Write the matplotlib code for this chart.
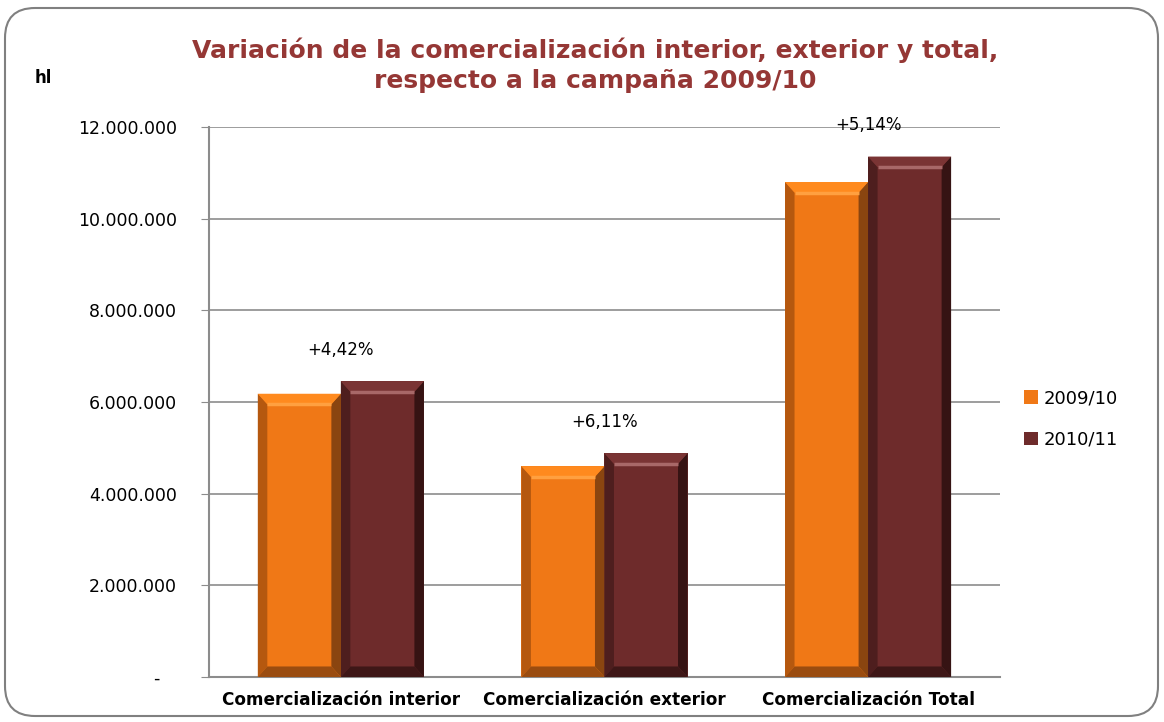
import matplotlib
matplotlib.use("Agg")
import matplotlib.pyplot as plt
from matplotlib.patches import FancyBboxPatch, Polygon
from matplotlib.ticker import FuncFormatter
import numpy as np

categories = ["Comercialización interior", "Comercialización exterior", "Comercialización Total"]
series_names = ["2009/10", "2010/11"]
values_2009 = [6180000, 4600000, 10800000]
values_2010 = [6453000, 4881000, 11355000]
variation_labels = ["+4,42%", "+6,11%", "+5,14%"]
yticks = [0, 2000000, 4000000, 6000000, 8000000, 10000000, 12000000]

title_color = "#953735"
main_colors = ["#F07816", "#6E2B2B"]
left_colors = ["#B5580F", "#4E1E1E"]
right_colors = ["#8A4510", "#361313"]
top_colors = ["#FF8A1E", "#7A3434"]
hi_colors = ["#FFA040", "#A86868"]
bottom_colors = ["#9A4C10", "#3E1717"]

fig = plt.figure(figsize=(11.64, 7.22), dpi=100)
fig.patch.set_facecolor("white")

# rounded frame
frame = FancyBboxPatch((0.05, 0.06), 11.53, 7.08,
                       boxstyle="round,pad=0,rounding_size=0.3",
                       transform=fig.dpi_scale_trans, facecolor="none",
                       edgecolor="#808080", linewidth=1.5)
fig.patches.append(frame)

ax = fig.add_axes([0.1796, 0.0623, 0.6794, 0.7618])
ax.set_xlim(-0.5, 2.5)
ax.set_ylim(0, 12000000)

x = np.arange(len(categories))
w = 0.315
series = [values_2009, values_2010]
bar_groups = []
for i, vals in enumerate(series):
    bars = ax.bar(x + (i - 0.5) * w, vals, width=w, color=main_colors[i],
                  edgecolor="none", zorder=3, label=series_names[i])
    bar_groups.append(bars)

# bevel decorations derived from bar geometry
bx = 0.036  # horizontal bevel in data units
by = 230000  # vertical bevel in data units
for i, bars in enumerate(bar_groups):
    for b in bars:
        x0 = b.get_x(); x1 = x0 + b.get_width(); h = b.get_height()
        ax.add_patch(Polygon([(x0, 0), (x0 + bx, by), (x0 + bx, h - by), (x0, h)],
                             closed=True, facecolor=left_colors[i], edgecolor="none", zorder=4))
        ax.add_patch(Polygon([(x1, 0), (x1 - bx, by), (x1 - bx, h - by), (x1, h)],
                             closed=True, facecolor=right_colors[i], edgecolor="none", zorder=4))
        ax.add_patch(Polygon([(x0, h), (x1, h), (x1 - bx, h - by), (x0 + bx, h - by)],
                             closed=True, facecolor=top_colors[i], edgecolor="none", zorder=4))
        ax.plot([x0 + bx, x1 - bx], [h - by, h - by], color=hi_colors[i], lw=2.5,
                zorder=5, solid_capstyle="butt")
        ax.add_patch(Polygon([(x0, 0), (x1, 0), (x1 - bx, by), (x0 + bx, by)],
                             closed=True, facecolor=bottom_colors[i], edgecolor="none", zorder=4))

# variation labels
for j in range(len(categories)):
    top = max(values_2009[j], values_2010[j])
    ax.annotate(variation_labels[j], xy=(x[j], top), xytext=(0, 16),
                textcoords="offset points", ha="center", va="bottom",
                fontsize=12, color="black")

ax.set_yticks(yticks)
ax.yaxis.set_major_formatter(FuncFormatter(
    lambda v, p: "-   " if v == 0 else f"{int(v):,}".replace(",", ".")))
ax.grid(axis="y", color="#8C8C8C", linewidth=1.2, zorder=0)
ax.set_axisbelow(True)
for s in ["top", "right"]:
    ax.spines[s].set_visible(False)
for s in ["left", "bottom"]:
    ax.spines[s].set_color("#8C8C8C")
    ax.spines[s].set_linewidth(1.5)
ax.tick_params(axis="y", length=6, color="#8C8C8C", labelsize=12.5, pad=17)
ax.tick_params(axis="x", length=0, labelsize=12.2, pad=10)
ax.set_xticks(x)
ax.set_xticklabels(categories, fontweight="bold")

# legend
leg = ax.legend(loc="center left", bbox_to_anchor=(1.01, 0.469), frameon=False,
                fontsize=13, handlelength=0.8, handleheight=0.8, handletextpad=0.3,
                labelspacing=1.3)

fig.text(0.511, 0.948, "Variación de la comercialización interior, exterior y total,\nrespecto a la campaña 2009/10",
         ha="center", va="top", fontsize=18, fontweight="bold", color=title_color,
         linespacing=1.3)
fig.text(0.03, 0.892, "hl", ha="left", va="center", fontsize=12, fontweight="bold")

fig.savefig("out.png", dpi=100)
